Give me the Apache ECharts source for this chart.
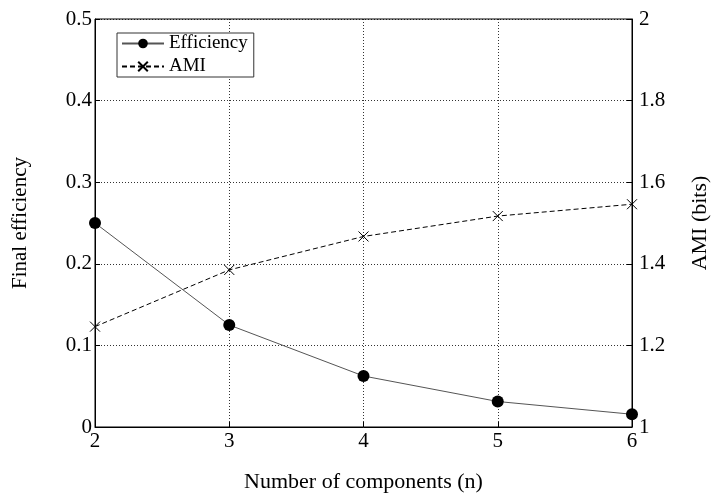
<!DOCTYPE html>
<html><head><meta charset="utf-8">
<script src="https://cdn.jsdelivr.net/npm/echarts@6/dist/echarts.min.js"></script>
<style>html,body{margin:0;padding:0;background:#fff}#c{width:711px;height:500px}</style>
</head><body><div id="c"></div>
<script>
const components = [2, 3, 4, 5, 6];
const efficiency = [0.25, 0.125, 0.0625, 0.03125, 0.015625];
const ami = [1.246, 1.385, 1.467, 1.517, 1.546];
const leftTicks = [0, 0.1, 0.2, 0.3, 0.4, 0.5];
const rightTicks = [1, 1.2, 1.4, 1.6, 1.8, 2];

const FONT = 'Liberation Serif';
const chart = echarts.init(document.getElementById('c'));
const crossPath = 'path://M0,0L10,10M10,0L0,10';
const TICK = 21, TITLE = 21;
chart.setOption({
  animation: false,
  backgroundColor: '#fff',
  textStyle: {fontFamily: FONT, color: '#000'},
  grid: {left: 95, right: 79, top: 19, bottom: 73, containLabel: false, outerBoundsMode: 'none',
    show: true, borderColor: '#000', borderWidth: 1, backgroundColor: 'transparent'},
  legend: {
    left: 117, top: 33, orient: 'vertical', itemWidth: 42, itemHeight: 12, itemGap: 4,
    padding: [1, 6, 1, 4],
    borderColor: '#333', borderWidth: 1, backgroundColor: '#fff',
    textStyle: {fontFamily: FONT, fontSize: 19, color: '#000'},
    data: ['Efficiency', 'AMI']
  },
  xAxis: {
    type: 'value', min: 2, max: 6, interval: 1,
    name: 'Number of components (n)', nameLocation: 'middle', nameGap: 44,
    nameTextStyle: {fontFamily: FONT, fontSize: TITLE + 1, color: '#000'},
    axisLine: {lineStyle: {color: '#000'}},
    axisTick: {inside: true, length: 5, lineStyle: {color: '#000'}},
    axisLabel: {fontFamily: FONT, fontSize: TICK, color: '#000', margin: 4,
      formatter: v => components.includes(v) ? String(v) : ''},
    splitLine: {lineStyle: {color: '#000', type: [1, 2], width: 1, opacity: 0.8}}
  },
  yAxis: [{
    type: 'value', min: 0, max: 0.5, interval: 0.1, position: 'left',
    name: 'Final efficiency', nameLocation: 'middle', nameGap: 64, nameRotate: 90,
    nameTextStyle: {fontFamily: FONT, fontSize: TITLE, color: '#000'},
    axisLine: {show: true, lineStyle: {color: '#000'}},
    axisTick: {show: true, inside: true, length: 5, lineStyle: {color: '#000'}},
    axisLabel: {fontFamily: FONT, fontSize: TICK, color: '#000', margin: 3,
      formatter: v => { const t = leftTicks.find(x => Math.abs(x - v) < 1e-9); return t === undefined ? '' : String(t); }},
    splitLine: {lineStyle: {color: '#000', type: [1, 2], width: 1, opacity: 0.8}}
  }, {
    type: 'value', min: 1, max: 2, interval: 0.2, position: 'right',
    name: 'AMI (bits)', nameLocation: 'middle', nameGap: 57, nameRotate: 90,
    nameTextStyle: {fontFamily: FONT, fontSize: TITLE + 1, color: '#000'},
    axisLine: {show: true, lineStyle: {color: '#000'}},
    axisTick: {show: true, inside: true, length: 5, lineStyle: {color: '#000'}},
    axisLabel: {fontFamily: FONT, fontSize: TICK, color: '#000', margin: 7,
      formatter: v => { const t = rightTicks.find(x => Math.abs(x - v) < 1e-9); return t === undefined ? '' : String(t); }},
    splitLine: {show: false}
  }],
  series: [{
    name: 'Efficiency', type: 'line', yAxisIndex: 0,
    data: components.map((c, i) => [c, efficiency[i]]),
    symbol: 'circle', symbolSize: 12,
    lineStyle: {color: '#555', width: 1},
    itemStyle: {color: '#000'}
  }, {
    name: 'AMI', type: 'line', yAxisIndex: 1,
    data: components.map((c, i) => [c, ami[i]]),
    symbol: crossPath, symbolSize: 10,
    lineStyle: {color: '#000', width: 1, type: [5, 3]},
    itemStyle: {color: 'transparent', borderColor: '#000', borderWidth: 1}
  }]
});
</script></body></html>
